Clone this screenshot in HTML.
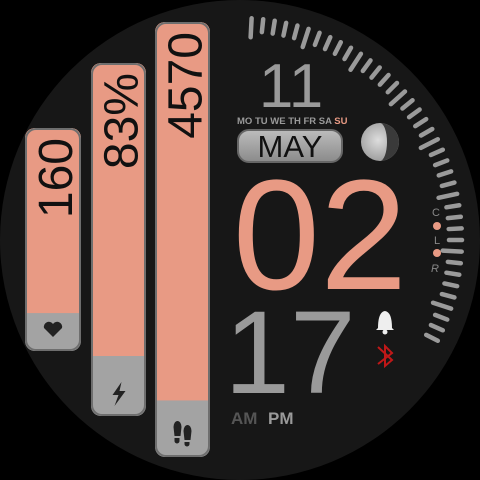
<!DOCTYPE html>
<html><head><meta charset="utf-8"><style>
body{margin:0;background:#000;width:480px;height:480px;overflow:hidden}
svg{display:block}
text{font-family:"Liberation Sans",sans-serif}
</style></head><body>
<svg width="480" height="480" viewBox="0 0 480 480">
<defs>
<linearGradient id="pill" x1="0" y1="0" x2="0" y2="1"><stop offset="0" stop-color="#bdbdbd"/><stop offset="1" stop-color="#8a8a8a"/></linearGradient>
<radialGradient id="moon" cx="0.45" cy="0.45" r="0.6"><stop offset="0" stop-color="#ddd"/><stop offset="1" stop-color="#999"/></radialGradient>
</defs>
<circle cx="240" cy="240" r="240" fill="#171717"/>
<g id="ticks"></g>
<g id="bars"></g>

<text x="291" y="107" font-size="62" fill="#9a9a9a" text-anchor="middle">11</text>
<g font-size="9.5" font-weight="bold">
<text x="237" y="124" fill="#9a9a9a">MO TU WE TH FR SA <tspan fill="#e89a84">SU</tspan></text>
</g>
<rect x="238" y="130" width="104" height="32" rx="11" fill="url(#pill)" stroke="#666" stroke-width="2"/>
<text x="290" y="157" font-size="31" fill="#111" text-anchor="middle">MAY</text>
<g>
<circle cx="380" cy="142" r="19" fill="url(#moon)"/>
<path d="M380 123 A19 19 0 0 1 380 161 A7 19 0 0 0 380 123Z" fill="#3a3a3a"/>
</g>
<text x="320" y="289" font-size="157" fill="#e89a84" text-anchor="middle">02</text>
<text x="290" y="393" font-size="118" fill="#9a9a9a" text-anchor="middle">17</text>
<text x="231" y="424" font-size="17" font-weight="bold" fill="#555">AM</text>
<text x="268" y="424" font-size="17" font-weight="bold" fill="#9a9a9a">PM</text>
<g font-size="11" fill="#888" text-anchor="middle">
<text x="436" y="216">C</text>
<circle cx="437" cy="226" r="4" fill="#e89a84"/>
<text x="437" y="244">L</text>
<circle cx="437" cy="253" r="4" fill="#e89a84"/>
<text x="435" y="272" font-style="italic">R</text>
</g>
<g fill="#eee">
<path d="M378 328 Q378 312 385 311 Q392 312 392 328 L394 330 L376 330Z"/>
<circle cx="385" cy="332" r="2.5"/>
</g>
<path d="M378 347 L392 360 L385 366 L385 346 L392 353 L378 364" fill="none" stroke="#c01818" stroke-width="2"/>
</svg>
<script>
const labels=["160","83%","4570"];
const fillFrac=[0.83,0.83,0.87];
const barX=[25,91,155],barTop=[128,63,22],barBot=[351,416,457],barW=[56,55,55];
const names=["heart-rate","battery","steps"];
const ns="http://www.w3.org/2000/svg";
const bars=document.getElementById('bars');
function mk(t,a){const e=document.createElementNS(ns,t);for(const k in a)e.setAttribute(k,a[k]);return e;}
labels.forEach((lab,i)=>{
 const g=mk('g',{});
 
 
 const x=barX[i],t=barTop[i],b=barBot[i],w=barW[i],h=b-t;
 const cid='c'+i;
 const cp=mk('clipPath',{id:cid});cp.appendChild(mk('rect',{x:x,y:t,width:w,height:h,rx:10}));g.appendChild(cp);
 const gg=mk('g',{'clip-path':'url(#'+cid+')'});
 gg.appendChild(mk('rect',{x:x,y:t,width:w,height:h,fill:'#a3a3a3'}));
 gg.appendChild(mk('rect',{x:x,y:t,width:w,height:h*fillFrac[i],fill:'#e89a84'}));
 g.appendChild(gg);
 g.appendChild(mk('rect',{x:x+1,y:t+1,width:w-2,height:h-2,rx:10,fill:'none',stroke:'#6e6e6e','stroke-width':2}));
 const cx=x+w/2+19, cy=t+10;
 const tx=mk('text',{x:0,y:0,'font-size':48,fill:'#111','text-anchor':'end',transform:'translate('+cx+','+cy+') rotate(-90)'});
 tx.textContent=lab;
 
 
 g.appendChild(tx);
 const iy=b-22, ix=x+w/2;
 let ic;
 if(i==0) ic=mk('path',{d:`M${ix} ${iy+8} L${ix-9} ${iy-1} A5 5 0 0 1 ${ix} ${iy-5} A5 5 0 0 1 ${ix+9} ${iy-1}Z`,fill:'#222'});
 else if(i==1) ic=mk('path',{d:`M${ix+3} ${iy-12} L${ix-6} ${iy+1} L${ix} ${iy+1} L${ix-4} ${iy+12} L${ix+7} ${iy-3} L${ix+1} ${iy-3}Z`,fill:'#222'});
 else ic=mk('path',{d:`M${ix-9} ${iy-8} a4 6 0 0 1 8 0 l-1 9 h-6z M${ix-8} ${iy+3} h5 v3 a2.5 2.5 0 0 1 -5 0z M${ix+1} ${iy-4} a4 6 0 0 1 8 0 l-1 9 h-6z M${ix+2} ${iy+7} h5 v2 a2.5 2.5 0 0 1 -5 0z`,fill:'#222'});
 
 
 g.appendChild(ic);
 bars.appendChild(g);
});
const tk=document.getElementById('ticks');
for(let k=0;k<=38;k++){
 const a=(3+k*3)*Math.PI/180;
 const major=(k%5==0);
 const r1=222,r2=major?203:209;
 const l=mk('line',{x1:240+r1*Math.sin(a),y1:240-r1*Math.cos(a),x2:240+r2*Math.sin(a),y2:240-r2*Math.cos(a),stroke:'#9a9a9a','stroke-width':4.5,'stroke-linecap':'round'});
 
 
 tk.appendChild(l);
}
</script>
</body></html>
